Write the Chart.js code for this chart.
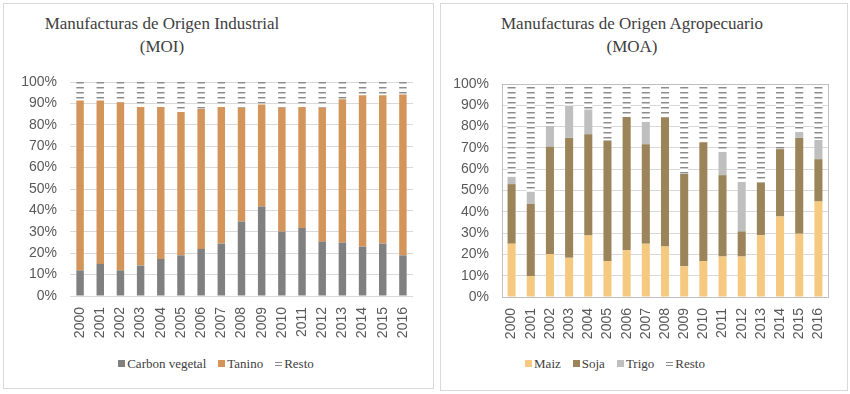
<!DOCTYPE html>
<html>
<head>
<meta charset="utf-8">
<script src="https://cdn.jsdelivr.net/npm/chart.js@4/dist/chart.umd.min.js"></script>
<style>
  html, body { margin:0; padding:0; background:#fff; }
  body { width:850px; height:394px; position:relative; overflow:hidden; }
  .panel { position:absolute; border:1px solid #d9d9d9; box-sizing:border-box; background:#fff; }
  .title { position:absolute; text-align:center; font-family:"Liberation Serif","Times New Roman","DejaVu Serif",serif; font-size:17px; line-height:23px; color:#404040; }
  .legend { position:absolute; text-align:center; font-family:"Liberation Serif","Times New Roman","DejaVu Serif",serif; font-size:13px; color:#404040; white-space:nowrap; }
  .legend .item { display:inline-block; margin:0 6px; }
  .legend .mk { display:inline-block; width:7px; height:7px; margin-right:2px; vertical-align:1px; }
  canvas { position:absolute; }
</style>
</head>
<body>
<div class="panel" style="left:3px;top:3px;width:431px;height:386px;"></div>
<div class="panel" style="left:440px;top:3px;width:408px;height:388px;"></div>
<div class="title" style="left:12px;top:12px;width:300px;">Manufacturas de Origen Industrial<br>(MOI)</div>
<div class="title" style="left:482px;top:12px;width:300px;">Manufacturas de Origen Agropecuario<br>(MOA)</div>
<div style="position:absolute;left:4px;top:60px;width:428px;height:290px;"><canvas id="c1" width="428" height="290"></canvas></div>
<div style="position:absolute;left:441px;top:60px;width:406px;height:290px;"><canvas id="c2" width="406" height="290"></canvas></div>
<div class="legend" id="lg1" style="left:66px;top:356px;width:300px;"></div>
<div class="legend" id="lg2" style="left:465px;top:356px;width:300px;"></div>
<script>
// ---- Data ----
const years = ['2000','2001','2002','2003','2004','2005','2006','2007','2008','2009','2010','2011','2012','2013','2014','2015','2016'];
const yTicks = [0,10,20,30,40,50,60,70,80,90,100];

// MOI (%)
const carbonVegetal = [12, 15, 12, 14.2, 17.3, 19, 22, 24.5, 34.8, 41.8, 30.1, 31.8, 25.4, 25, 23.1, 24.5, 19];
const tanino        = [79.4, 76.4, 78.5, 74.1, 71.0, 67.0, 65.4, 63.8, 53.2, 47.7, 57.9, 56.5, 62.6, 66.9, 70.7, 69.3, 75.2];
const restoMOI      = [8.6, 8.6, 9.5, 11.7, 11.7, 14, 12.6, 11.7, 12, 10.5, 12, 11.7, 12, 8.1, 6.2, 6.2, 5.8];

// MOA (%)
const maiz     = [25, 9.7, 20.2, 18.4, 28.9, 16.9, 22, 25, 23.7, 14.4, 16.9, 19, 19, 29, 37.8, 29.7, 44.8];
const soja     = [28, 34, 50.3, 56.3, 47.5, 56.4, 62.5, 46.7, 60.7, 43.3, 55.8, 38.2, 11.8, 24.7, 31.6, 45, 19.9];
const trigo    = [3.4, 5.7, 9.8, 15.1, 11.6, 0.3, 0, 10.5, 0.1, 0.1, 0.1, 10.9, 23.2, 0.2, 0, 2.8, 9];
const restoMOA = [43.6, 50.6, 19.7, 10.2, 12, 26.4, 15.5, 17.8, 15.5, 42.2, 27.2, 31.9, 46, 46.1, 30.6, 22.5, 26.3];

// ---- Styles ----
function stripePattern(ctx) {
  const pc = document.createElement('canvas');
  pc.width = 4; pc.height = 5;
  const p = pc.getContext('2d');
  p.fillStyle = '#ffffff'; p.fillRect(0,0,4,5);
  p.fillStyle = '#8c8c8c'; p.fillRect(0,2,4,1);
  p.fillStyle = '#c8c8c8'; p.fillRect(0,3,4,1);
  return ctx.createPattern(pc, 'repeat');
}

const tickFont = { family: '"Liberation Sans", Arial, sans-serif', size: 14 };
const tickColor = '#595959';

function makeOptions(yWidth, xHeight, pad, barPct) {
  return {
    responsive: false,
    animation: false,
    layout: { padding: pad },
    plugins: { legend: { display: false }, tooltip: { enabled: false }, title: { display: false } },
    datasets: { bar: { barPercentage: barPct, categoryPercentage: 1.0 } },
    scales: {
      x: {
        stacked: true,
        grid: { display: false },
        border: { display: false },
        ticks: { color: tickColor, font: tickFont, maxRotation: 90, minRotation: 90, autoSkip: false, padding: 3 },
        afterFit: s => { s.height = xHeight; }
      },
      y: {
        stacked: true,
        min: 0, max: 100,
        afterBuildTicks: s => { s.ticks = yTicks.map(v => ({ value: v })); },
        grid: { color: '#d9d9d9', lineWidth: 1, drawTicks: false },
        border: { display: false },
        ticks: { color: tickColor, font: tickFont, padding: 13, callback: v => v + '%' },
        afterFit: s => { s.width = yWidth; }
      }
    }
  };
}

const plotBox = {
  id: 'plotBox',
  afterDatasetsDraw(chart, args, opts) {
    if (!opts.show) return;
    const a = chart.chartArea, c = chart.ctx;
    c.save();
    c.strokeStyle = '#bfbfbf';
    c.lineWidth = 1;
    c.strokeRect(Math.round(a.left) + 0.5, Math.round(a.top) + 0.5, Math.round(a.right - a.left), Math.round(a.bottom - a.top));
    c.restore();
  }
};

// ---- Chart 1: MOI ----
const ctx1 = document.getElementById('c1').getContext('2d');
const pat1 = stripePattern(ctx1);
const ds1 = [
  { label: 'Carbon vegetal', data: carbonVegetal, backgroundColor: '#808080' },
  { label: 'Tanino', data: tanino, backgroundColor: '#d4955a' },
  { label: 'Resto', data: restoMOI, backgroundColor: pat1 }
];
const o1 = makeOptions(66, 54, { top: 22, right: 19, left: 0, bottom: 0 }, 0.37);
o1.plugins.plotBox = { show: false };
new Chart(ctx1, { type: 'bar', data: { labels: years, datasets: ds1 }, options: o1, plugins: [plotBox] });

// ---- Chart 2: MOA ----
const ctx2 = document.getElementById('c2').getContext('2d');
const pat2 = stripePattern(ctx2);
const ds2 = [
  { label: 'Maiz', data: maiz, backgroundColor: '#f5ca80' },
  { label: 'Soja', data: soja, backgroundColor: '#9b8459' },
  { label: 'Trigo', data: trigo, backgroundColor: '#bfbfbf' },
  { label: 'Resto', data: restoMOA, backgroundColor: pat2 }
];
const o2 = makeOptions(61, 53, { top: 24, right: 19, left: 0, bottom: 0 }, 0.42);
o2.plugins.plotBox = { show: true };
new Chart(ctx2, { type: 'bar', data: { labels: years, datasets: ds2 }, options: o2, plugins: [plotBox] });

// ---- HTML legends built from dataset definitions ----
function buildLegend(id, datasets) {
  const el = document.getElementById(id);
  datasets.forEach(d => {
    const it = document.createElement('span');
    it.className = 'item';
    const mk = document.createElement('span');
    mk.className = 'mk';
    if (typeof d.backgroundColor === 'string') {
      mk.style.background = d.backgroundColor;
    } else {
      mk.style.background = 'repeating-linear-gradient(to bottom, #fff 0px, #fff 2px, #8c8c8c 2px, #8c8c8c 3px)';
    }
    it.appendChild(mk);
    it.appendChild(document.createTextNode(d.label));
    el.appendChild(it);
  });
}
buildLegend('lg1', ds1);
buildLegend('lg2', ds2);
</script>
</body>
</html>
